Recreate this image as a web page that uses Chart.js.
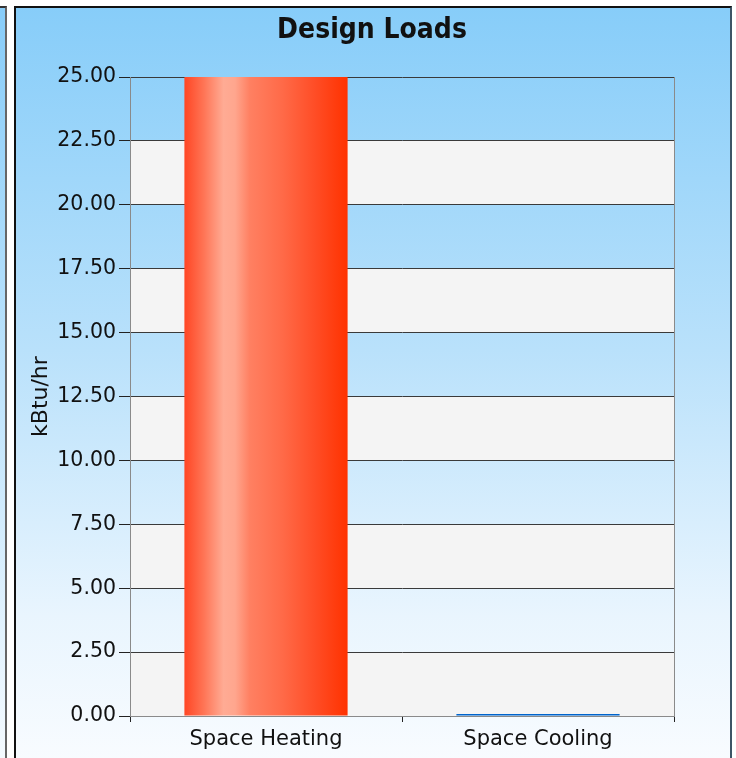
<!DOCTYPE html>
<html>
<head>
<meta charset="utf-8">
<script src="https://cdn.jsdelivr.net/npm/chart.js@4.4.0/dist/chart.umd.min.js"></script>
<style>
  html, body { margin: 0; padding: 0; background: #fff; }
  body { width: 736px; height: 758px; position: relative; overflow: hidden; }
  .sliver {
    position: absolute; left: 0; top: 6px; width: 5px; height: 760px;
    border-top: 2px solid #333; border-right: 2px solid #666;
    background: linear-gradient(#88cdf9, #f6fbff);
  }
  .panel {
    position: absolute; left: 14px; top: 6px; width: 714px; height: 760px;
    border-top: 2px solid #111; border-left: 2px solid #111; border-right: 2px solid #3d5566;
    background: linear-gradient(#87cdf9 0%, #b9e1fb 45%, #e9f5fe 80%, #f9fcff 100%);
  }
  #chart { position: absolute; left: 0; top: 0; }
</style>
</head>
<body>
<div class="sliver"></div>
<div class="panel"></div>
<canvas id="chart" width="736" height="758"></canvas>
<script>
const categories = ['Space Heating', 'Space Cooling'];
const loads = [25.0, 0.08];
const yTicks = [0, 2.5, 5, 7.5, 10, 12.5, 15, 17.5, 20, 22.5, 25];

const FONT = "'DejaVu Sans', sans-serif";
const TITLE_FONT = "'DejaVu Sans Condensed', 'DejaVu Sans', sans-serif";
const BAR_PCT = 0.6;

// alternating light grey bands behind the bars
const bands = {
    id: 'bands',
    beforeDraw(chart) {
        const { ctx, chartArea: a, scales: { y } } = chart;
        ctx.save();
        ctx.fillStyle = '#f4f4f4';
        for (let i = 0; i < yTicks.length - 1; i += 2) {
            const top = y.getPixelForValue(yTicks[i + 1]);
            const bot = y.getPixelForValue(yTicks[i]);
            ctx.fillRect(a.left, top, a.right - a.left, bot - top);
        }
        ctx.restore();
    }
};

function heatGradient(context) {
    const chart = context.chart;
    const x = chart.scales.x;
    if (!x || !chart.chartArea) return '#ff4422';
    const cx = x.getPixelForValue(context.dataIndex);
    const w = (x.width / categories.length) * BAR_PCT;
    const g = chart.ctx.createLinearGradient(cx - w / 2, 0, cx + w / 2, 0);
    g.addColorStop(0, '#ff4624');
    g.addColorStop(0.12, '#ff7556');
    g.addColorStop(0.24, '#ffab94');
    g.addColorStop(0.31, '#ffa68e');
    g.addColorStop(0.4, '#ff8062');
    g.addColorStop(0.6, '#ff6a48');
    g.addColorStop(0.8, '#ff4d26');
    g.addColorStop(1, '#ff3200');
    return g;
}

new Chart(document.getElementById('chart'), {
    type: 'bar',
    data: {
        labels: categories,
        datasets: [{
            data: loads,
            backgroundColor: (c) => c.dataIndex === 0 ? heatGradient(c) : '#0064cc',
            borderWidth: 0,
            barPercentage: BAR_PCT,
            categoryPercentage: 1.0
        }]
    },
    options: {
        responsive: false,
        animation: false,
        layout: { padding: { left: 8, right: 0, top: 0, bottom: 0 } },
        plugins: {
            legend: { display: false },
            tooltip: { enabled: false },
            title: {
                display: true,
                text: 'Design Loads',
                color: '#111',
                font: { family: TITLE_FONT, size: 28, weight: 'bold', lineHeight: 1.2 },
                padding: { top: 14, bottom: 29.5 }
            }
        },
        scales: {
            x: {
                afterFit(s) { s.height = 42; },
                grid: { drawOnChartArea: false, drawTicks: true, tickLength: 6, color: '#222', offset: true },
                border: { color: '#8a8a8a' },
                ticks: { color: '#111', padding: 5, font: { family: FONT, size: 21 } }
            },
            y: {
                min: 0,
                max: 25,
                afterFit(s) { s.width = 122; },
                afterBuildTicks(s) { s.ticks = yTicks.map(v => ({ value: v })); },
                grid: { color: '#3a3a3a', tickLength: 11, tickColor: '#222' },
                border: { color: '#8a8a8a' },
                ticks: {
                    color: '#111', padding: 3,
                    font: { family: FONT, size: 20.5 },
                    callback: (v) => Number(v).toFixed(2)
                },
                title: {
                    display: true,
                    text: 'kBtu/hr',
                    color: '#111',
                    font: { family: FONT, size: 22 },
                    padding: { top: 20, bottom: 0 }
                }
            },
            yRight: {
                position: 'right',
                min: 0,
                max: 25,
                afterFit(s) { s.width = 62; },
                grid: { drawOnChartArea: false, drawTicks: false },
                border: { color: '#8a8a8a' },
                ticks: { display: false }
            }
        }
    },
    plugins: [bands]
});
</script>
</body>
</html>
